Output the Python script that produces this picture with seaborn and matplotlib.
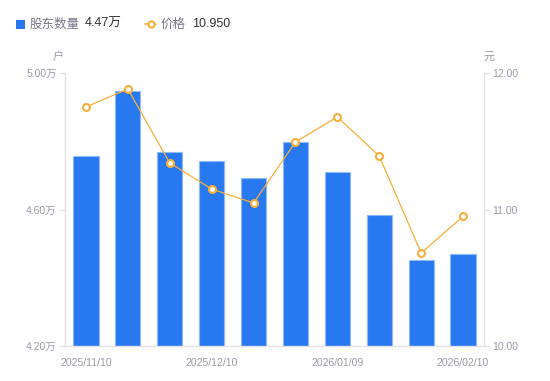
import numpy as np
import pandas as pd
import matplotlib
matplotlib.use("Agg")
import matplotlib.pyplot as plt
import seaborn as sns
from matplotlib.lines import Line2D
from matplotlib.patches import Rectangle

dates = ["2025/11/10", "2025/11/20", "2025/11/30", "2025/12/10", "2025/12/20",
         "2025/12/31", "2026/01/09", "2026/01/20", "2026/01/31", "2026/02/10"]
holders = [4.757, 4.947, 4.768, 4.742, 4.692, 4.798, 4.710, 4.584, 4.452, 4.470]  # 万户
price = [11.751, 11.883, 11.341, 11.150, 11.048, 11.494, 11.678, 11.392, 10.681, 10.950]
left_ticks = [4.20, 4.60, 5.00]
right_ticks = [10.00, 11.00, 12.00]
shown_dates = ["2025/11/10", "2025/12/10", "2026/01/09", "2026/02/10"]

sns.set_theme(style="white")
plt.rcParams['font.family'] = ['Liberation Sans', 'Noto Sans CJK SC', 'DejaVu Sans']

BLUE = "#2878F0"
ORANGE = "#F9AE3A"
GRID = "#E3E3E6"
TXT = "#9A9AAB"
DARK = "#333333"
CJK = ['Noto Sans CJK SC', 'DejaVu Sans']

df = pd.DataFrame({"date": dates, "holders": holders, "price": price,
                   "pos": np.arange(len(dates))})

fig = plt.figure(figsize=(5.5, 3.81), dpi=100)
ax = fig.add_axes([65/550, 35/381, (484-65)/550, (346-73)/381])

sns.barplot(data=df, x="date", y="holders", ax=ax, color=BLUE, width=0.6,
            edgecolor="#8DBAFB", linewidth=0.8, saturation=1)
ax.set_ylim(4.20, 5.00)
ax.set_xlim(-0.5, len(dates) - 0.5)
ax.set_yticks(left_ticks)
ax.set_yticklabels([f"{v:.2f}万" for v in left_ticks])
ax.set_xticks([dates.index(d) for d in shown_dates])
ax.set_xticklabels(shown_dates)
ax.set_xlabel("")
ax.set_ylabel("")

ax2 = ax.twinx()
sns.lineplot(data=df, x="pos", y="price", ax=ax2, color=ORANGE, linewidth=0.9,
             marker="o", markersize=5, markerfacecolor="white",
             markeredgecolor=ORANGE, markeredgewidth=1.5)
ax2.set_ylim(10.00, 12.00)
ax2.set_yticks(right_ticks)
ax2.set_yticklabels([f"{v:.2f}" for v in right_ticks])
ax2.set_xlabel("")
ax2.set_ylabel("")
ax2.set_xlim(-0.5, len(dates) - 0.5)

for a in (ax, ax2):
    for s in a.spines.values():
        s.set_visible(False)
ax.spines["left"].set_visible(True)
ax.spines["left"].set_color(GRID)
ax.spines["bottom"].set_visible(True)
ax.spines["bottom"].set_color(GRID)
ax2.spines["right"].set_visible(True)
ax2.spines["right"].set_color(GRID)
for s in ("left", "bottom"):
    ax.spines[s].set_linewidth(1)
ax2.spines["right"].set_linewidth(1)

ax.tick_params(axis="y", which="both", left=True, length=4, width=1, color=GRID,
               labelsize=7.5, labelcolor=TXT, pad=2)
ax.tick_params(axis="x", bottom=False, labelsize=7.5, labelcolor=TXT, pad=3)
ax2.tick_params(axis="y", right=True, length=4, width=1, color=GRID,
                labelsize=7.5, labelcolor=TXT, pad=2)

# unit labels
fig.text(58/550, 1 - 57/381, "户", fontsize=8, color=TXT, ha="center", va="center", family=CJK)
fig.text(489/550, 1 - 57/381, "元", fontsize=8, color=TXT, ha="center", va="center", family=CJK)

# legend
ly = 1 - 24/381
fig.patches.append(Rectangle((16/550, 1 - 29/381), 9/550, 9/381, transform=fig.transFigure,
                             facecolor=BLUE, edgecolor="none"))
fig.text(30/550, ly, "股东数量", fontsize=9, color="#777788", ha="left", va="center", family=CJK)
fig.text(85/550, ly, "4.47万", fontsize=9, color=DARK, ha="left", va="center")
fig.lines.append(Line2D([145/550, 156/550], [ly, ly], transform=fig.transFigure,
                        color=ORANGE, linewidth=1.2))
fig.lines.append(Line2D([150.5/550], [ly], transform=fig.transFigure, marker="o",
                        markersize=4.5, markerfacecolor="white", markeredgecolor=ORANGE,
                        markeredgewidth=1.5, linestyle="none"))
fig.text(161/550, ly, "价格", fontsize=9, color="#777788", ha="left", va="center", family=CJK)
fig.text(192/550, ly, "10.950", fontsize=9, color=DARK, ha="left", va="center")

fig.savefig("out.png", dpi=100)
